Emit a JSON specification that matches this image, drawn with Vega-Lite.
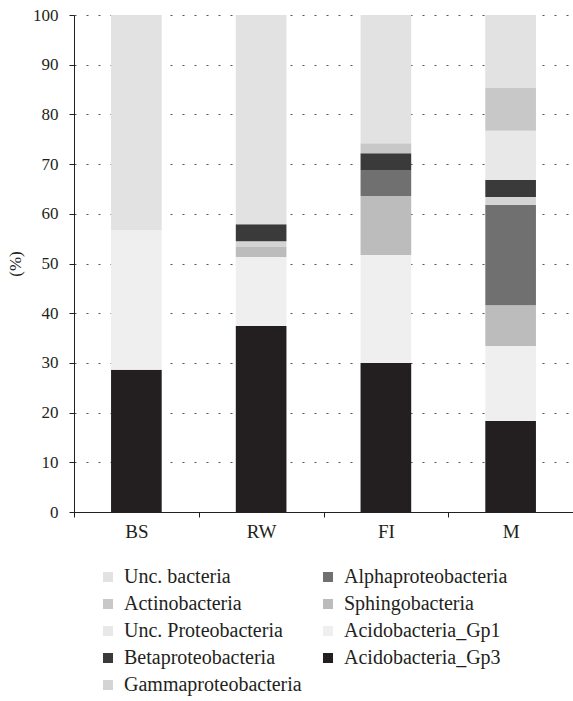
{
  "$schema": "https://vega.github.io/schema/vega-lite/v6.json",
  "autosize": "none",
  "width": 499,
  "height": 497,
  "padding": {"left": 74, "top": 15, "right": 0, "bottom": 189},
  "config": {
    "font": "Liberation Serif",
    "view": {"stroke": null},
    "axis": {"labelFont": "Liberation Serif", "titleFont": "Liberation Serif", "labelColor": "#231f20", "titleColor": "#231f20"}
  },
  "data": {
    "values": [
      {"site": "BS", "taxon": "Acidobacteria_Gp3", "pct": 28.6},
      {"site": "BS", "taxon": "Acidobacteria_Gp1", "pct": 28.1},
      {"site": "BS", "taxon": "Unc. bacteria", "pct": 43.3},
      {"site": "RW", "taxon": "Acidobacteria_Gp3", "pct": 37.4},
      {"site": "RW", "taxon": "Acidobacteria_Gp1", "pct": 13.9},
      {"site": "RW", "taxon": "Sphingobacteria", "pct": 2.0},
      {"site": "RW", "taxon": "Gammaproteobacteria", "pct": 1.2},
      {"site": "RW", "taxon": "Betaproteobacteria", "pct": 3.4},
      {"site": "RW", "taxon": "Unc. bacteria", "pct": 42.1},
      {"site": "FI", "taxon": "Acidobacteria_Gp3", "pct": 30.0},
      {"site": "FI", "taxon": "Acidobacteria_Gp1", "pct": 21.7},
      {"site": "FI", "taxon": "Sphingobacteria", "pct": 11.9},
      {"site": "FI", "taxon": "Alphaproteobacteria", "pct": 5.2},
      {"site": "FI", "taxon": "Betaproteobacteria", "pct": 3.4},
      {"site": "FI", "taxon": "Actinobacteria", "pct": 2.0},
      {"site": "FI", "taxon": "Unc. bacteria", "pct": 25.8},
      {"site": "M", "taxon": "Acidobacteria_Gp3", "pct": 18.3},
      {"site": "M", "taxon": "Acidobacteria_Gp1", "pct": 15.1},
      {"site": "M", "taxon": "Sphingobacteria", "pct": 8.2},
      {"site": "M", "taxon": "Alphaproteobacteria", "pct": 20.2},
      {"site": "M", "taxon": "Gammaproteobacteria", "pct": 1.6},
      {"site": "M", "taxon": "Betaproteobacteria", "pct": 3.4},
      {"site": "M", "taxon": "Unc. Proteobacteria", "pct": 9.9},
      {"site": "M", "taxon": "Actinobacteria", "pct": 8.6},
      {"site": "M", "taxon": "Unc. bacteria", "pct": 14.7}
    ]
  },
  "transform": [
    {"calculate": "indexof(['Acidobacteria_Gp3','Acidobacteria_Gp1','Sphingobacteria','Alphaproteobacteria','Gammaproteobacteria','Betaproteobacteria','Unc. Proteobacteria','Actinobacteria','Unc. bacteria'], datum.taxon)", "as": "rank"}
  ],
  "mark": {"type": "bar", "width": {"band": 0.406}},
  "encoding": {
    "x": {
      "field": "site", "type": "nominal", "sort": ["BS", "RW", "FI", "M"],
      "scale": {"paddingInner": 0, "paddingOuter": 0},
      "axis": {"title": null, "labelAngle": 0, "labelFontSize": 19, "labelPadding": 5, "tickBand": "extent", "tickSize": 5, "tickColor": "#231f20", "domainColor": "#231f20", "grid": false}
    },
    "y": {
      "field": "pct", "type": "quantitative", "stack": "zero",
      "scale": {"domain": [0, 100], "nice": false},
      "axis": {
        "title": "(%)", "titleFontSize": 17, "titleFontWeight": "normal", "titlePadding": 8,
        "values": [0, 10, 20, 30, 40, 50, 60, 70, 80, 90, 100],
        "labelFontSize": 17, "labelPadding": 11, "tickSize": 5, "tickColor": "#231f20", "domainColor": "#231f20",
        "grid": true, "gridColor": "#555555", "gridDash": [2, 10], "gridWidth": 1.2
      }
    },
    "color": {
      "field": "taxon", "type": "nominal",
      "scale": {
        "domain": ["Unc. bacteria", "Actinobacteria", "Unc. Proteobacteria", "Betaproteobacteria", "Gammaproteobacteria", "Alphaproteobacteria", "Sphingobacteria", "Acidobacteria_Gp1", "Acidobacteria_Gp3"],
        "range": ["#e2e2e2", "#c8c8c8", "#e8e8e8", "#3a3a3a", "#d4d4d4", "#707070", "#bcbcbc", "#efefef", "#231f20"]
      },
      "legend": {
        "title": null, "orient": "none", "legendX": 24, "legendY": 552,
        "columns": 2, "columnPadding": 16, "rowPadding": 7,
        "symbolType": "square", "symbolSize": 100, "symbolStrokeWidth": 0,
        "labelFont": "Liberation Serif", "labelFontSize": 20, "labelColor": "#231f20", "labelLimit": 300, "labelOffset": 6
      }
    },
    "order": {"field": "rank", "type": "quantitative", "sort": "ascending"}
  }
}
